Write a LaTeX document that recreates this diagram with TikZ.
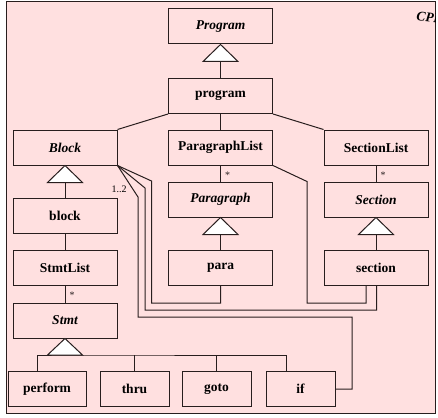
\documentclass[tikz,border=0pt]{standalone}
\usepackage{fontspec}
\setmainfont{Liberation Serif}
\usetikzlibrary{calc}
\definecolor{umlpink}{RGB}{255,224,224}
\definecolor{umlline}{RGB}{40,30,30}
\tikzset{
  cls/.style={rectangle,draw,fill=umlpink,minimum width=104pt,minimum height=35pt,inner sep=0pt,font=\fontsize{13.5}{16}\selectfont\bfseries},
  abs/.style={cls,font=\fontsize{13.5}{16}\selectfont\bfseries\itshape},
  leaf/.style={cls,minimum width=69pt},
  gen/.style={draw,fill=white},
  mult/.style={font=\fontsize{10}{12}\selectfont,inner sep=1pt}
}
\begin{document}
\begin{tikzpicture}[x=1pt,y=-1pt,line width=1pt,umlline]
    \useasboundingbox (0,0) rectangle (438,417);
    % frame
    \draw[fill=umlpink] (6,2) rectangle (435,413);
    \begin{scope}
      \clip (6,2) rectangle (435,413);
      \node[anchor=west,rotate=-6,font=\fontsize{13.5}{16}\selectfont\bfseries\itshape,inner sep=0pt,black] (title) at (416,16) {CPP};
    \end{scope}

    % top
    \node[abs,text=black] (Program) at (220.5,26.5) {Program};
    \node[cls,text=black] (program) at (220.5,96) {program};
    \draw[gen] (Program.south) -- ++(-17.5,17) -- ++(35,0) -- cycle;
    \coordinate (tProgram) at ($(Program.south)+(0,17)$);
    \draw (tProgram) -- (program);

    % second row
    \node[abs,text=black] (Block) at (65,147.5) {Block};
    \node[cls,text=black] (ParagraphList) at (220.5,147.5) {ParagraphList};
    \node[cls,text=black] (SectionList) at (376,147.5) {SectionList};
    \draw (program.south west) -- (Block.north east);
    \draw (program) -- (ParagraphList);
    \draw (program.south east) -- (SectionList.north west);

    % paragraphs and sections
    \node[abs,text=black] (Paragraph) at (220.5,199.5) {Paragraph};
    \node[abs,text=black] (Section) at (376,199.5) {Section};
    \node[cls,text=black] (para) at (220.5,268) {para};
    \node[cls,text=black] (section) at (376,268) {section};
    \draw (ParagraphList) -- node[mult,pos=0.62,right,xshift=3pt] {*} (Paragraph);
    \draw (SectionList) -- node[mult,pos=0.62,right,xshift=3pt] {*} (Section);
    \draw[gen] (Paragraph.south) -- ++(-17.5,17) -- ++(35,0) -- cycle;
    \coordinate (tParagraph) at ($(Paragraph.south)+(0,17)$);
    \draw (tParagraph) -- (para);
    \draw[gen] (Section.south) -- ++(-17.5,17) -- ++(35,0) -- cycle;
    \coordinate (tSection) at ($(Section.south)+(0,17)$);
    \draw (tSection) -- (section);

    % block side
    \node[cls,text=black] (block) at (65,216) {block};
    \node[cls,text=black] (StmtList) at (65,268) {StmtList};
    \node[abs,text=black] (Stmt) at (65,320.5) {Stmt};
    \draw[gen] (Block.south) -- ++(-17.5,17) -- ++(35,0) -- cycle;
    \coordinate (tBlock) at ($(Block.south)+(0,17)$);
    \draw (tBlock) -- (block);
    \draw (block) -- (StmtList);
    \draw (StmtList) -- node[mult,pos=0.55,right,xshift=3pt] {*} (Stmt);

    % statements
    \node[cls,text=black,minimum width=78pt,minimum height=34.5pt] (perform) at (47,389) {perform};
    \node[leaf,text=black,minimum height=34.5pt] (thru) at (134.5,389) {thru};
    \node[leaf,text=black,minimum height=34.5pt] (goto) at (216.5,389) {goto};
    \node[leaf,text=black,minimum height=34.5pt] (if) at (300.5,389) {if};
    \draw[gen] (Stmt.south) -- ++(-17.5,16.5) -- ++(35,0) -- cycle;
    \coordinate (tStmt) at ($(Stmt.south)+(0,16.5)$);
    \draw ([xshift=-10pt]perform.north) |- (tStmt) -| ([xshift=-14.5pt]if.north);
    \draw (tStmt -| thru.north) -- (thru.north);
    \draw (tStmt -| goto.north) -- (goto.north);

    % Block references
    \draw (Block.south east) -- (151.5,181) -- (151.5,303) -| (para.south);
    \draw (Block.south east) -- (145,188) -- (145,310) -| ([xshift=0.7pt]section.south);
    \draw (Block.south east) -- (138,197) |- (352,317) |- (if.east);
    \node[mult,text=black] (card) at (119,189) {1..2};
    \draw (ParagraphList.south east) -- (307,181.5) -- (307,303) -| ([xshift=-10pt]section.south);
\end{tikzpicture}
\end{document}
